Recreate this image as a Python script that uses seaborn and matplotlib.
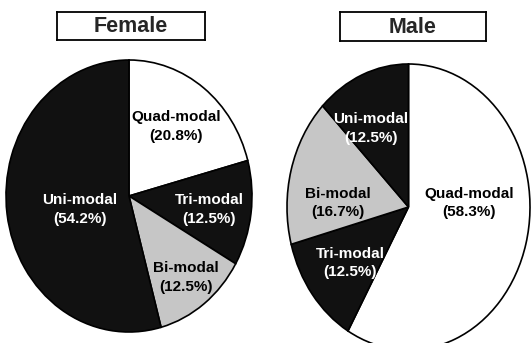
import matplotlib
matplotlib.use("Agg")
import matplotlib.pyplot as plt
import seaborn as sns

sns.set_theme(style="white")
plt.rcParams['font.family'] = ['Liberation Sans', 'DejaVu Sans']

# data
female_labels = ['Quad-modal', 'Tri-modal', 'Bi-modal', 'Uni-modal']
female_values = [20.8, 12.5, 12.5, 54.2]
male_labels = ['Quad-modal', 'Tri-modal', 'Bi-modal', 'Uni-modal']
male_values = [58.3, 12.5, 16.7, 12.5]

# styles
wedge_colors = ['white', '#111111', '#c6c6c6', '#111111']
text_colors = ['black', 'white', 'black', 'white']

# label anchors (axes units, -1..1) and axes rectangles in pixels
W, H = 531, 343
female_text_pos = [(0.38, 0.51), (0.65, -0.10), (0.46, -0.60), (-0.40, -0.10)]
male_text_pos = [(0.50, 0.03), (-0.48, -0.39), (-0.58, 0.03), (-0.31, 0.55)]


def px_rect(x0, y0, x1, y1):
    return [x0 / W, (H - y1) / H, (x1 - x0) / W, (y1 - y0) / H]


fig = plt.figure(figsize=(W / 100, H / 100), dpi=100)


def draw_pie(rect, values, labels, text_pos):
    ax = fig.add_axes(rect)
    ax.pie(values, colors=wedge_colors, startangle=90, counterclock=False,
           radius=1, wedgeprops=dict(edgecolor='black', linewidth=1.2))
    ax.set_aspect('auto')
    ax.set_xlim(-1.0, 1.0)
    ax.set_ylim(-1.0, 1.0)
    ax.axis('off')
    for lab, val, (tx, ty), tc in zip(labels, values, text_pos, text_colors):
        ax.text(tx, ty, f"{lab}\n({val:.1f}%)", ha='center', va='center',
                fontsize=11, fontweight='bold', color=tc, linespacing=1.4)
    return ax


def draw_title(rect, title):
    ax = fig.add_axes(rect)
    ax.set_xticks([])
    ax.set_yticks([])
    for s in ax.spines.values():
        s.set_visible(True)
        s.set_color('black')
        s.set_linewidth(1.3)
    ax.text(0.5, 0.47, title, ha='center', va='center', fontsize=15.5,
            fontweight='bold', transform=ax.transAxes)


draw_pie(px_rect(6, 60, 252, 332), female_values, female_labels, female_text_pos)
draw_pie(px_rect(287, 64, 530, 350), male_values, male_labels, male_text_pos)
draw_title(px_rect(57, 12, 205, 40), 'Female')
draw_title(px_rect(340, 12, 486, 41), 'Male')

fig.savefig('out.png', dpi=100, facecolor='white')
